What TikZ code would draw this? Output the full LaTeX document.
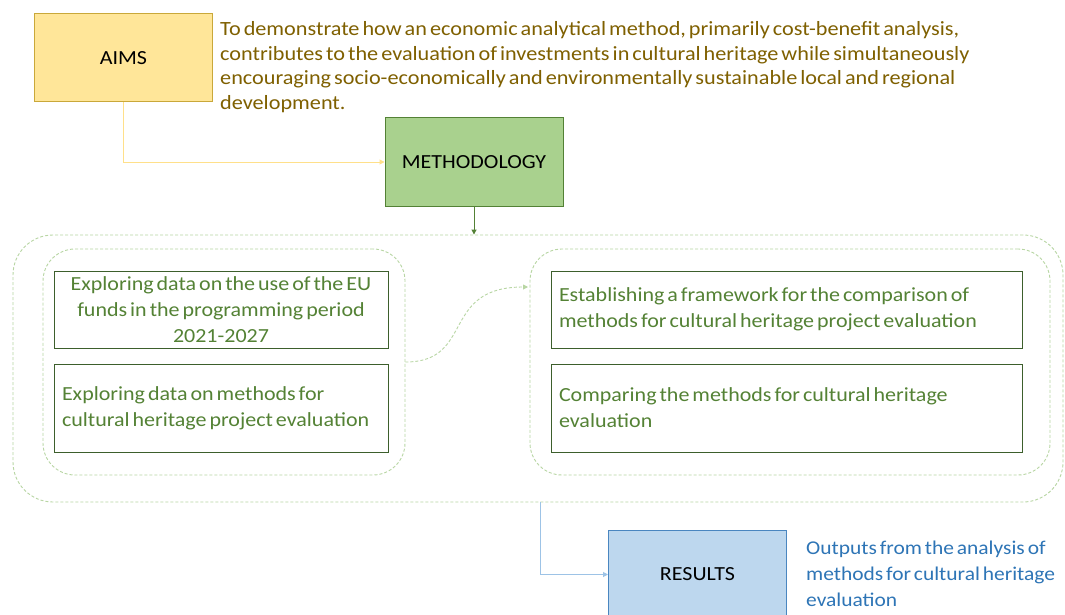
\documentclass[tikz,border=0pt]{standalone}
\usepackage{fontspec}
\setmainfont{Carlito}[FakeStretch=1.1, WordSpace=0.6]
\usetikzlibrary{arrows.meta}
\definecolor{aimfill}{HTML}{FFE699}
\definecolor{aimdraw}{HTML}{C9A83A}
\definecolor{aimline}{HTML}{FFE08A}
\definecolor{aimtext}{HTML}{7F6000}
\definecolor{methfill}{HTML}{A9D18E}
\definecolor{methdraw}{HTML}{538135}
\definecolor{dashgreen}{HTML}{B8D6A3}
\definecolor{boxdraw}{HTML}{3D5F2C}
\definecolor{boxtext}{HTML}{548235}
\definecolor{resfill}{HTML}{BDD7EE}
\definecolor{resdraw}{HTML}{4A86C0}
\definecolor{resline}{HTML}{9DC3E6}
\definecolor{restext}{HTML}{2E75B6}
\tikzset{
  mainbox/.style={draw, line width=1pt, inner sep=0pt, minimum width=178, font=\fontsize{20}{23}\selectfont, text=black},
  grpbox/.style={draw=dashgreen, dashed, dash pattern=on 3pt off 2pt, line width=0.9pt, rounded corners=#1, inner sep=0pt},
  stepbox/.style={draw=boxdraw, line width=1pt, minimum width=334, text width=318, inner sep=0pt, text=boxtext,
     font=\fontsize{20}{26}\selectfont},
  widebox/.style={stepbox, minimum width=471, text width=455},
  tip/.style={-{Triangle[length=5pt,width=5pt]}},
}
\begin{document}
\begin{tikzpicture}[x=1pt,y=-1pt]
\clip (0,0) rectangle (1065,615);
\fill[white] (0,0) rectangle (1065,615);

% AIMS
\node[mainbox, fill=aimfill, draw=aimdraw, minimum height=88] (aims) at (123.5,58) {AIMS};
\node[anchor=west, align=left, inner sep=0pt, text=aimtext, font=\fontsize{20.2}{24.6}\selectfont] (aimstext) at (220,67)
 {To demonstrate how an economic analytical method, primarily cost-benefit analysis,\\
  contributes to the evaluation of investments in cultural heritage while simultaneously\\
  encouraging socio-economically and environmentally sustainable local and regional\\
  development.};

% METHODOLOGY
\node[mainbox, fill=methfill, draw=methdraw, minimum height=88] (meth) at (474,162) {METHODOLOGY};

% group boxes
\node[grpbox=40, minimum width=1050, minimum height=267] (outer) at (538,368.5) {};
\node[grpbox=32, minimum width=362, minimum height=226] (lgrp) at (224,362) {};
\node[grpbox=32, minimum width=520, minimum height=226] (rgrp) at (790,362) {};

% step boxes
\node[stepbox, minimum height=77, align=flush center] (b1) at (221,309.5)
 {Exploring data on the use of the EU\\funds in the programming period\\2021-2027};
\node[stepbox, minimum height=88, align=flush left] (b2) at (221,408)
 {Exploring data on methods for\\cultural heritage project evaluation};
\node[widebox, minimum height=77, align=flush left] (b3) at (786.5,309.5)
 {Establishing a framework for the comparison of\\methods for cultural heritage project evaluation};
\node[widebox, minimum height=88, align=flush left] (b4) at (786.5,408)
 {Comparing the methods for cultural heritage\\evaluation};

% RESULTS
\node[mainbox, fill=resfill, draw=resdraw, minimum height=88] (res) at (697.5,574.5) {RESULTS};
\node[anchor=west, align=left, inner sep=0pt, text=restext, font=\fontsize{19.5}{26}\selectfont] (restxt) at (806,574)
 {Outputs from the analysis of\\methods for cultural heritage\\evaluation};

% connectors
\draw[tip, aimline, line width=1pt] (aims.south) |- (meth.west);
\draw[tip, methdraw, line width=1pt] (meth.south) -- (meth.south |- outer.north);
\coordinate (cstart) at (lgrp.east);
\coordinate (cend) at (528,287);
\draw[tip, dashgreen, dashed, dash pattern=on 3pt off 2pt, line width=0.9pt]
  (cstart) .. controls (475,362) and (440,287) .. (cend);
\coordinate (ob) at (540.5,502);
\draw[tip, resline, line width=1pt] (ob) |- (res.west);
\end{tikzpicture}
\end{document}
